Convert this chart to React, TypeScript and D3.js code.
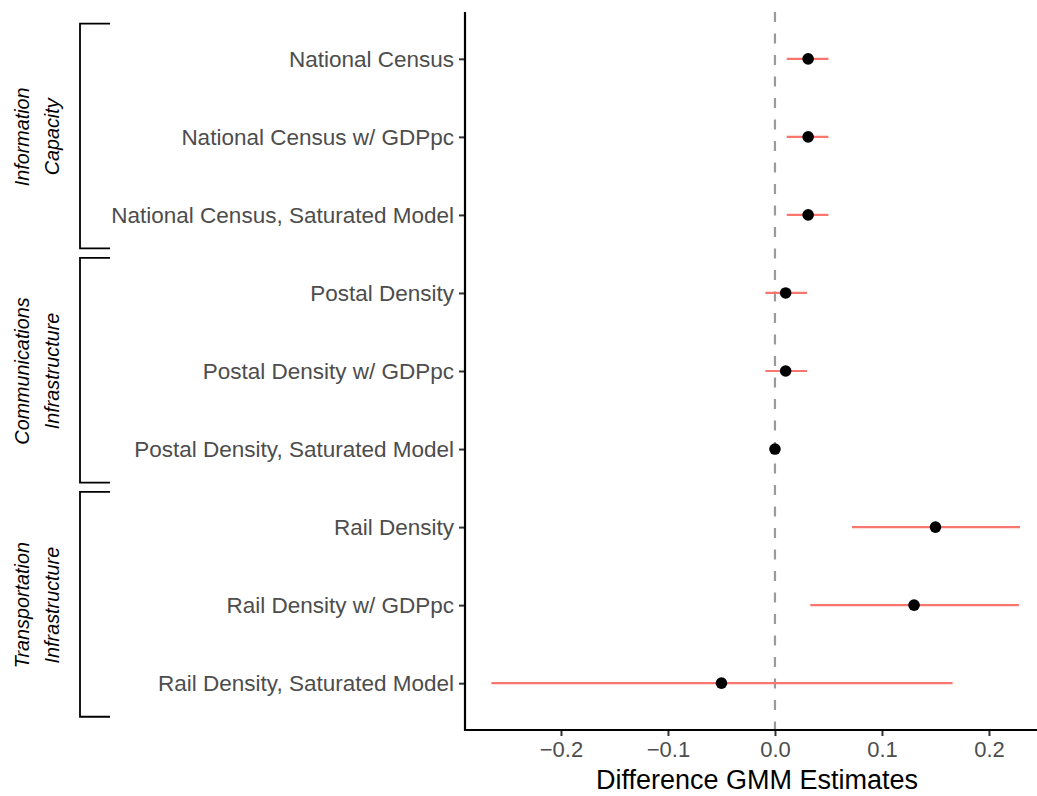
import React, { useRef, useEffect } from 'react';
import * as d3 from 'd3';

// Model labels, top to bottom
const models = [
  "National Census",
  "National Census w/ GDPpc",
  "National Census, Saturated Model",
  "Postal Density",
  "Postal Density w/ GDPpc",
  "Postal Density, Saturated Model",
  "Rail Density",
  "Rail Density w/ GDPpc",
  "Rail Density, Saturated Model",
];
const estimates = [0.031, 0.031, 0.031, 0.010, 0.010, 0.000, 0.150, 0.130, -0.050];
const lower = [0.011, 0.011, 0.011, -0.009, -0.009, 0.000, 0.072, 0.033, -0.265];
const upper = [0.050, 0.050, 0.050, 0.030, 0.030, 0.000, 0.229, 0.228, 0.166];

const groupNames = [
  ["Information", "Capacity"],
  ["Communications", "Infrastructure"],
  ["Transportation", "Infrastructure"],
];
const groupMembers = [
  ["National Census", "National Census, Saturated Model"],
  ["Postal Density", "Postal Density, Saturated Model"],
  ["Rail Density", "Rail Density, Saturated Model"],
];
const xTicks = [-0.2, -0.1, 0.0, 0.1, 0.2];

const App = () => {
  const svgRef = useRef<SVGSVGElement>(null);

  useEffect(() => {
    const svg = d3.select(svgRef.current);
    svg.selectAll("*").remove();

    const width = 1037;
    const height = 796;
    const panelLeft = 465;
    const panelRight = 1037;
    const panelTop = 12;
    const panelBottom = 730;
    const font = "'Liberation Sans', Arial, sans-serif";

    svg.attr("width", width).attr("height", height)
      .attr("viewBox", [0, 0, width, height])
      .style("font-family", font);

    const x = d3.scaleLinear()
      .domain([-0.2897, 0.2449])
      .range([panelLeft, panelRight]);

    const y = d3.scalePoint<string>()
      .domain(models)
      .range([panelTop, panelBottom])
      .padding(0.6);

    const data = models.map((m, i) => ({ m, est: estimates[i], lo: lower[i], hi: upper[i] }));

    // Zero reference line
    svg.append("line")
      .attr("x1", x(0)).attr("x2", x(0))
      .attr("y1", panelTop).attr("y2", panelBottom)
      .attr("stroke", "#9A9A9A")
      .attr("stroke-width", 2.2)
      .attr("stroke-dasharray", "10,11.5");

    // Confidence intervals
    svg.append("g").selectAll("line")
      .data(data.filter(d => d.hi > d.lo))
      .join("line")
      .attr("x1", d => x(d.lo)).attr("x2", d => x(d.hi))
      .attr("y1", d => y(d.m)!).attr("y2", d => y(d.m)!)
      .attr("stroke", "#F8766D")
      .attr("stroke-width", 2.2);

    // Point estimates
    svg.append("g").selectAll("circle")
      .data(data)
      .join("circle")
      .attr("cx", d => x(d.est))
      .attr("cy", d => y(d.m)!)
      .attr("r", 5.8)
      .attr("fill", "black");

    // Axes
    const xAxis = svg.append("g")
      .attr("transform", `translate(0,${panelBottom})`)
      .call(d3.axisBottom(x).tickValues(xTicks).tickSize(6).tickPadding(5)
        .tickFormat(d => d3.format(".1f")(d as number).replace("-", "\u2212")));
    xAxis.select(".domain").remove();
    xAxis.selectAll(".tick line").attr("stroke", "#333333").attr("stroke-width", 2);
    xAxis.selectAll(".tick text").attr("fill", "#4D4D4D").attr("font-size", 22).attr("font-family", font);

    const yAxis = svg.append("g")
      .attr("transform", `translate(${panelLeft},0)`)
      .call(d3.axisLeft(y).tickSize(6).tickPadding(5));
    yAxis.select(".domain").remove();
    yAxis.selectAll(".tick line").attr("stroke", "#333333").attr("stroke-width", 2);
    yAxis.selectAll(".tick text").attr("fill", "#4D4D4D").attr("font-size", 22.5).attr("font-family", font);

    // Axis lines (classic theme)
    svg.append("path")
      .attr("d", `M${panelLeft},${panelTop}V${panelBottom}H${panelRight}`)
      .attr("fill", "none")
      .attr("stroke", "black")
      .attr("stroke-width", 2.2);

    // Axis title
    svg.append("text")
      .attr("x", x(0) - 18)
      .attr("y", 789)
      .attr("text-anchor", "middle")
      .attr("font-size", 27)
      .attr("fill", "black")
      .text("Difference GMM Estimates");

    // Group brackets and labels
    const step = y.step();
    groupMembers.forEach(([first, last], i) => {
      const top = y(first)! - step * 0.45;
      const bot = y(last)! + step * 0.43;
      svg.append("path")
        .attr("d", `M110,${top}H80V${bot}H110`)
        .attr("fill", "none")
        .attr("stroke", "black")
        .attr("stroke-width", 1.8);
      const mid = (y(first)! + y(last)!) / 2;
      const label = svg.append("text")
        .attr("transform", `translate(22,${mid}) rotate(-90)`)
        .attr("text-anchor", "middle")
        .attr("font-size", 19.8)
        .attr("font-style", "italic")
        .attr("fill", "black");
      groupNames[i].forEach((line, j) => {
        label.append("tspan")
          .attr("x", 0)
          .attr("y", j * 30 + 7)
          .text(line);
      });
    });
  }, []);

  return <svg ref={svgRef} style={{ position: "absolute", left: 0, top: 0 }}></svg>;
};

export default App;
